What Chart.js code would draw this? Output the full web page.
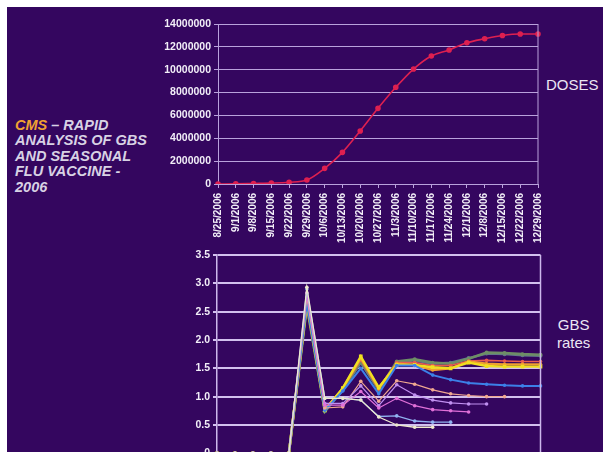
<!DOCTYPE html>
<html>
<head>
<meta charset="utf-8">
<script src="https://cdn.jsdelivr.net/npm/chart.js@4.4.1/dist/chart.umd.min.js"></script>
<style>
  html, body { margin: 0; padding: 0; width: 603px; height: 452px; overflow: hidden; background: #ffffff; }
  #panel { position: absolute; left: 7px; top: 7px; width: 596px; height: 445px; background: #34065f; }
  #titulo { position: absolute; left: 15px; top: 118px; font-family: 'Liberation Sans', Arial, sans-serif;
    font-style: italic; font-weight: bold; font-size: 14.5px; line-height: 15.4px; color: #d8d2e4; white-space: nowrap; }
  #titulo .cms { color: #f0a232; }
  .etiqueta { position: absolute; font-family: 'Liberation Sans', Arial, sans-serif; font-size: 15px;
    color: #ece6f4; text-align: center; line-height: 18px; }
  canvas { position: absolute; }
</style>
</head>
<body>
<div id="panel"></div>
<div id="titulo"><span class="cms">CMS</span> – RAPID<br>ANALYSIS OF GBS<br>AND SEASONAL<br>FLU VACCINE -<br>2006</div>
<div class="etiqueta" style="left:546px; top:76px;">DOSES</div>
<div class="etiqueta" style="left:557px; top:316px;">GBS<br>rates</div>
<canvas id="graficaDosis" width="400" height="240" style="left:150px; top:10px;"></canvas>
<canvas id="graficaGBS" width="400" height="290" style="left:150px; top:245px;"></canvas>
<script>
// weekly dates (same axis for both charts)
const fechas = ['8/25/2006', '9/1/2006', '9/8/2006', '9/15/2006', '9/22/2006', '9/29/2006', '10/6/2006',
  '10/13/2006', '10/20/2006', '10/27/2006', '11/3/2006', '11/10/2006', '11/17/2006', '11/24/2006',
  '12/1/2006', '12/8/2006', '12/15/2006', '12/22/2006', '12/29/2006'];

// cumulative doses
const dosis = [0, 20000, 50000, 80000, 150000, 350000, 1370000, 2770000, 4640000, 6620000, 8460000,
  10060000, 11200000, 11730000, 12360000, 12710000, 13000000, 13130000, 13130000];

// GBS rates, one line per weekly analysis
const tasaCrema   = [0, 0, 0, 0, 0, 2.93, 0.97, 0.97, 0.94, 0.64, 0.50, 0.46, 0.46];
const tasaCeleste = [0, 0, 0, 0, 0, 2.90, 0.97, 0.97, 0.94, 0.65, 0.66, 0.57, 0.55, 0.55];
const tasaMagenta = [0, 0, 0, 0, 0, 2.83, 0.85, 0.85, 1.09, 0.80, 0.97, 0.84, 0.77, 0.75, 0.73];
const tasaVioleta = [0, 0, 0, 0, 0, 2.83, 0.88, 0.88, 1.19, 0.84, 1.21, 1.03, 0.94, 0.89, 0.87, 0.87];
const tasaSalmon  = [0, 0, 0, 0, 0, 2.75, 0.80, 0.82, 1.27, 0.92, 1.28, 1.22, 1.12, 1.05, 1.02, 1.00, 1.00];
const tasaAzul    = [0, 0, 0, 0, 0, 2.65, 0.76, 1.10, 1.50, 1.05, 1.55, 1.55, 1.38, 1.30, 1.24, 1.22, 1.20, 1.19, 1.19];
const tasaAmarilla= [0, 0, 0, 0, 0, 2.65, 0.76, 1.15, 1.71, 1.16, 1.56, 1.56, 1.52, 1.50, 1.60, 1.54, 1.53, 1.53, 1.53];
const tasaNaranja = [0, 0, 0, 0, 0, 2.65, 0.77, 1.15, 1.68, 1.15, 1.58, 1.56, 1.47, 1.50, 1.62, 1.58, 1.57, 1.57, 1.57];
const tasaRoja    = [0, 0, 0, 0, 0, 2.62, 0.78, 1.14, 1.65, 1.13, 1.60, 1.60, 1.55, 1.55, 1.63, 1.64, 1.63, 1.62, 1.62];
const tasaVerde   = [0, 0, 0, 0, 0, 2.60, 0.74, 1.12, 1.62, 1.12, 1.62, 1.66, 1.60, 1.58, 1.67, 1.78, 1.77, 1.75, 1.74];
const tasaGris    = [0, 0, 0, 0, 0, 2.60, 0.74, 1.12, 1.60, 1.12, 1.60, 1.64, 1.58, 1.60, 1.68, 1.76, 1.75, 1.73, 1.72];

const ticksDosis = [0, 2000000, 4000000, 6000000, 8000000, 10000000, 12000000, 14000000];
const ticksGBS = [0, 0.5, 1, 1.5, 2, 2.5, 3, 3.5];

Chart.defaults.font.family = "'Liberation Sans', Arial, sans-serif";
Chart.defaults.animation = false;

const lavanda = '#b9a2dc';
const fuenteEje = { size: 10.5, weight: 'bold' };
const fuenteFechas = { size: 10, weight: 'bold' };

// right side frame of the plot
const marcoDerecho = {
  id: 'marcoDerecho',
  afterDraw(chart) {
    const a = chart.chartArea;
    const c = chart.ctx;
    c.save();
    c.strokeStyle = chart.options.plugins.marcoDerecho.color;
    c.lineWidth = chart.options.plugins.marcoDerecho.width;
    c.beginPath();
    c.moveTo(a.right, a.top);
    c.lineTo(a.right, a.bottom);
    c.stroke();
    c.restore();
  }
};

// fixed x axis height, without the extra side padding of the rotated labels
function ejeX(alto) {
  return function(scale) {
    scale.height = alto;
    scale.paddingLeft = 0;
    scale.paddingRight = 0;
  };
}

// doses chart
new Chart(document.getElementById('graficaDosis').getContext('2d'), {
  type: 'line',
  data: {
    labels: fechas,
    datasets: [{
      data: dosis,
      borderColor: '#de2050',
      backgroundColor: '#de2050',
      borderWidth: 1.6,
      pointRadius: 2,
      cubicInterpolationMode: 'monotone',
      fill: false
    }]
  },
  options: {
    responsive: false,
    layout: { padding: { top: 14, right: 12, left: 0, bottom: 0 } },
    plugins: { legend: { display: false }, tooltip: { enabled: false }, marcoDerecho: { color: lavanda, width: 1 } },
    scales: {
      x: {
        offset: false,
        afterFit: ejeX(66),
        grid: { drawOnChartArea: false, color: lavanda, tickLength: 4 },
        border: { color: lavanda, width: 1 },
        ticks: { color: '#f2eef8', font: fuenteFechas, minRotation: 90, maxRotation: 90, autoSkip: false, padding: 5 }
      },
      y: {
        min: 0,
        max: 14000000,
        afterFit(scale) { scale.width = 68; },
        afterBuildTicks(scale) { scale.ticks = ticksDosis.map(v => ({ value: v })); },
        grid: { color: lavanda, lineWidth: 1, tickLength: 4 },
        border: { color: lavanda, width: 1 },
        ticks: { color: '#f2eef8', font: fuenteEje, padding: 3, callback: v => String(v) }
      }
    }
  },
  plugins: [marcoDerecho]
});

// GBS rates chart
function serie(datos, color, grosor, radio, estilo) {
  return {
    data: datos,
    borderColor: color,
    backgroundColor: color,
    borderWidth: grosor,
    pointRadius: radio,
    pointStyle: estilo || 'circle',
    pointBorderWidth: 0,
    tension: 0,
    fill: false
  };
}

new Chart(document.getElementById('graficaGBS').getContext('2d'), {
  type: 'line',
  data: {
    labels: fechas,
    datasets: [
      serie(tasaCrema, '#eeeacc', 1.3, 1.8),
      serie(tasaCeleste, '#90b2f0', 1.3, 1.8),
      serie(tasaMagenta, '#e070d8', 1.2, 1.8),
      serie(tasaVioleta, '#c090f0', 1.2, 1.8),
      serie(tasaSalmon, '#f0a890', 1.2, 1.8),
      serie(tasaAzul, '#3c80e8', 2, 1.8),
      serie(tasaAmarilla, '#f0e020', 2.4, 2.6, 'rect'),
      serie(tasaNaranja, '#f0a030', 2.4, 1.8),
      serie(tasaRoja, '#e85a50', 1.6, 1.8),
      serie(tasaVerde, '#6e8e66', 2.6, 2),
      serie(tasaGris, '#62788a', 2.4, 2)
    ]
  },
  options: {
    responsive: false,
    layout: { padding: { top: 10, right: 9.5, left: 0, bottom: 0 } },
    plugins: { legend: { display: false }, tooltip: { enabled: false }, marcoDerecho: { color: '#cdb8ec', width: 1.5 } },
    scales: {
      x: {
        offset: false,
        afterFit: ejeX(81.7),
        grid: { drawOnChartArea: false, color: lavanda, tickLength: 4 },
        border: { color: lavanda, width: 1 },
        ticks: { color: '#f2eef8', font: fuenteFechas, minRotation: 90, maxRotation: 90, autoSkip: false, padding: 5 }
      },
      y: {
        min: 0,
        max: 3.5,
        afterFit(scale) { scale.width = 67; },
        afterBuildTicks(scale) { scale.ticks = ticksGBS.map(v => ({ value: v })); },
        grid: { color: '#d2c0ee', lineWidth: 2, tickLength: 4 },
        border: { color: '#cdb8ec', width: 1.5 },
        ticks: { color: '#f2eef8', font: fuenteEje, padding: 3 }
      }
    }
  },
  plugins: [marcoDerecho]
});
</script>
</body>
</html>
